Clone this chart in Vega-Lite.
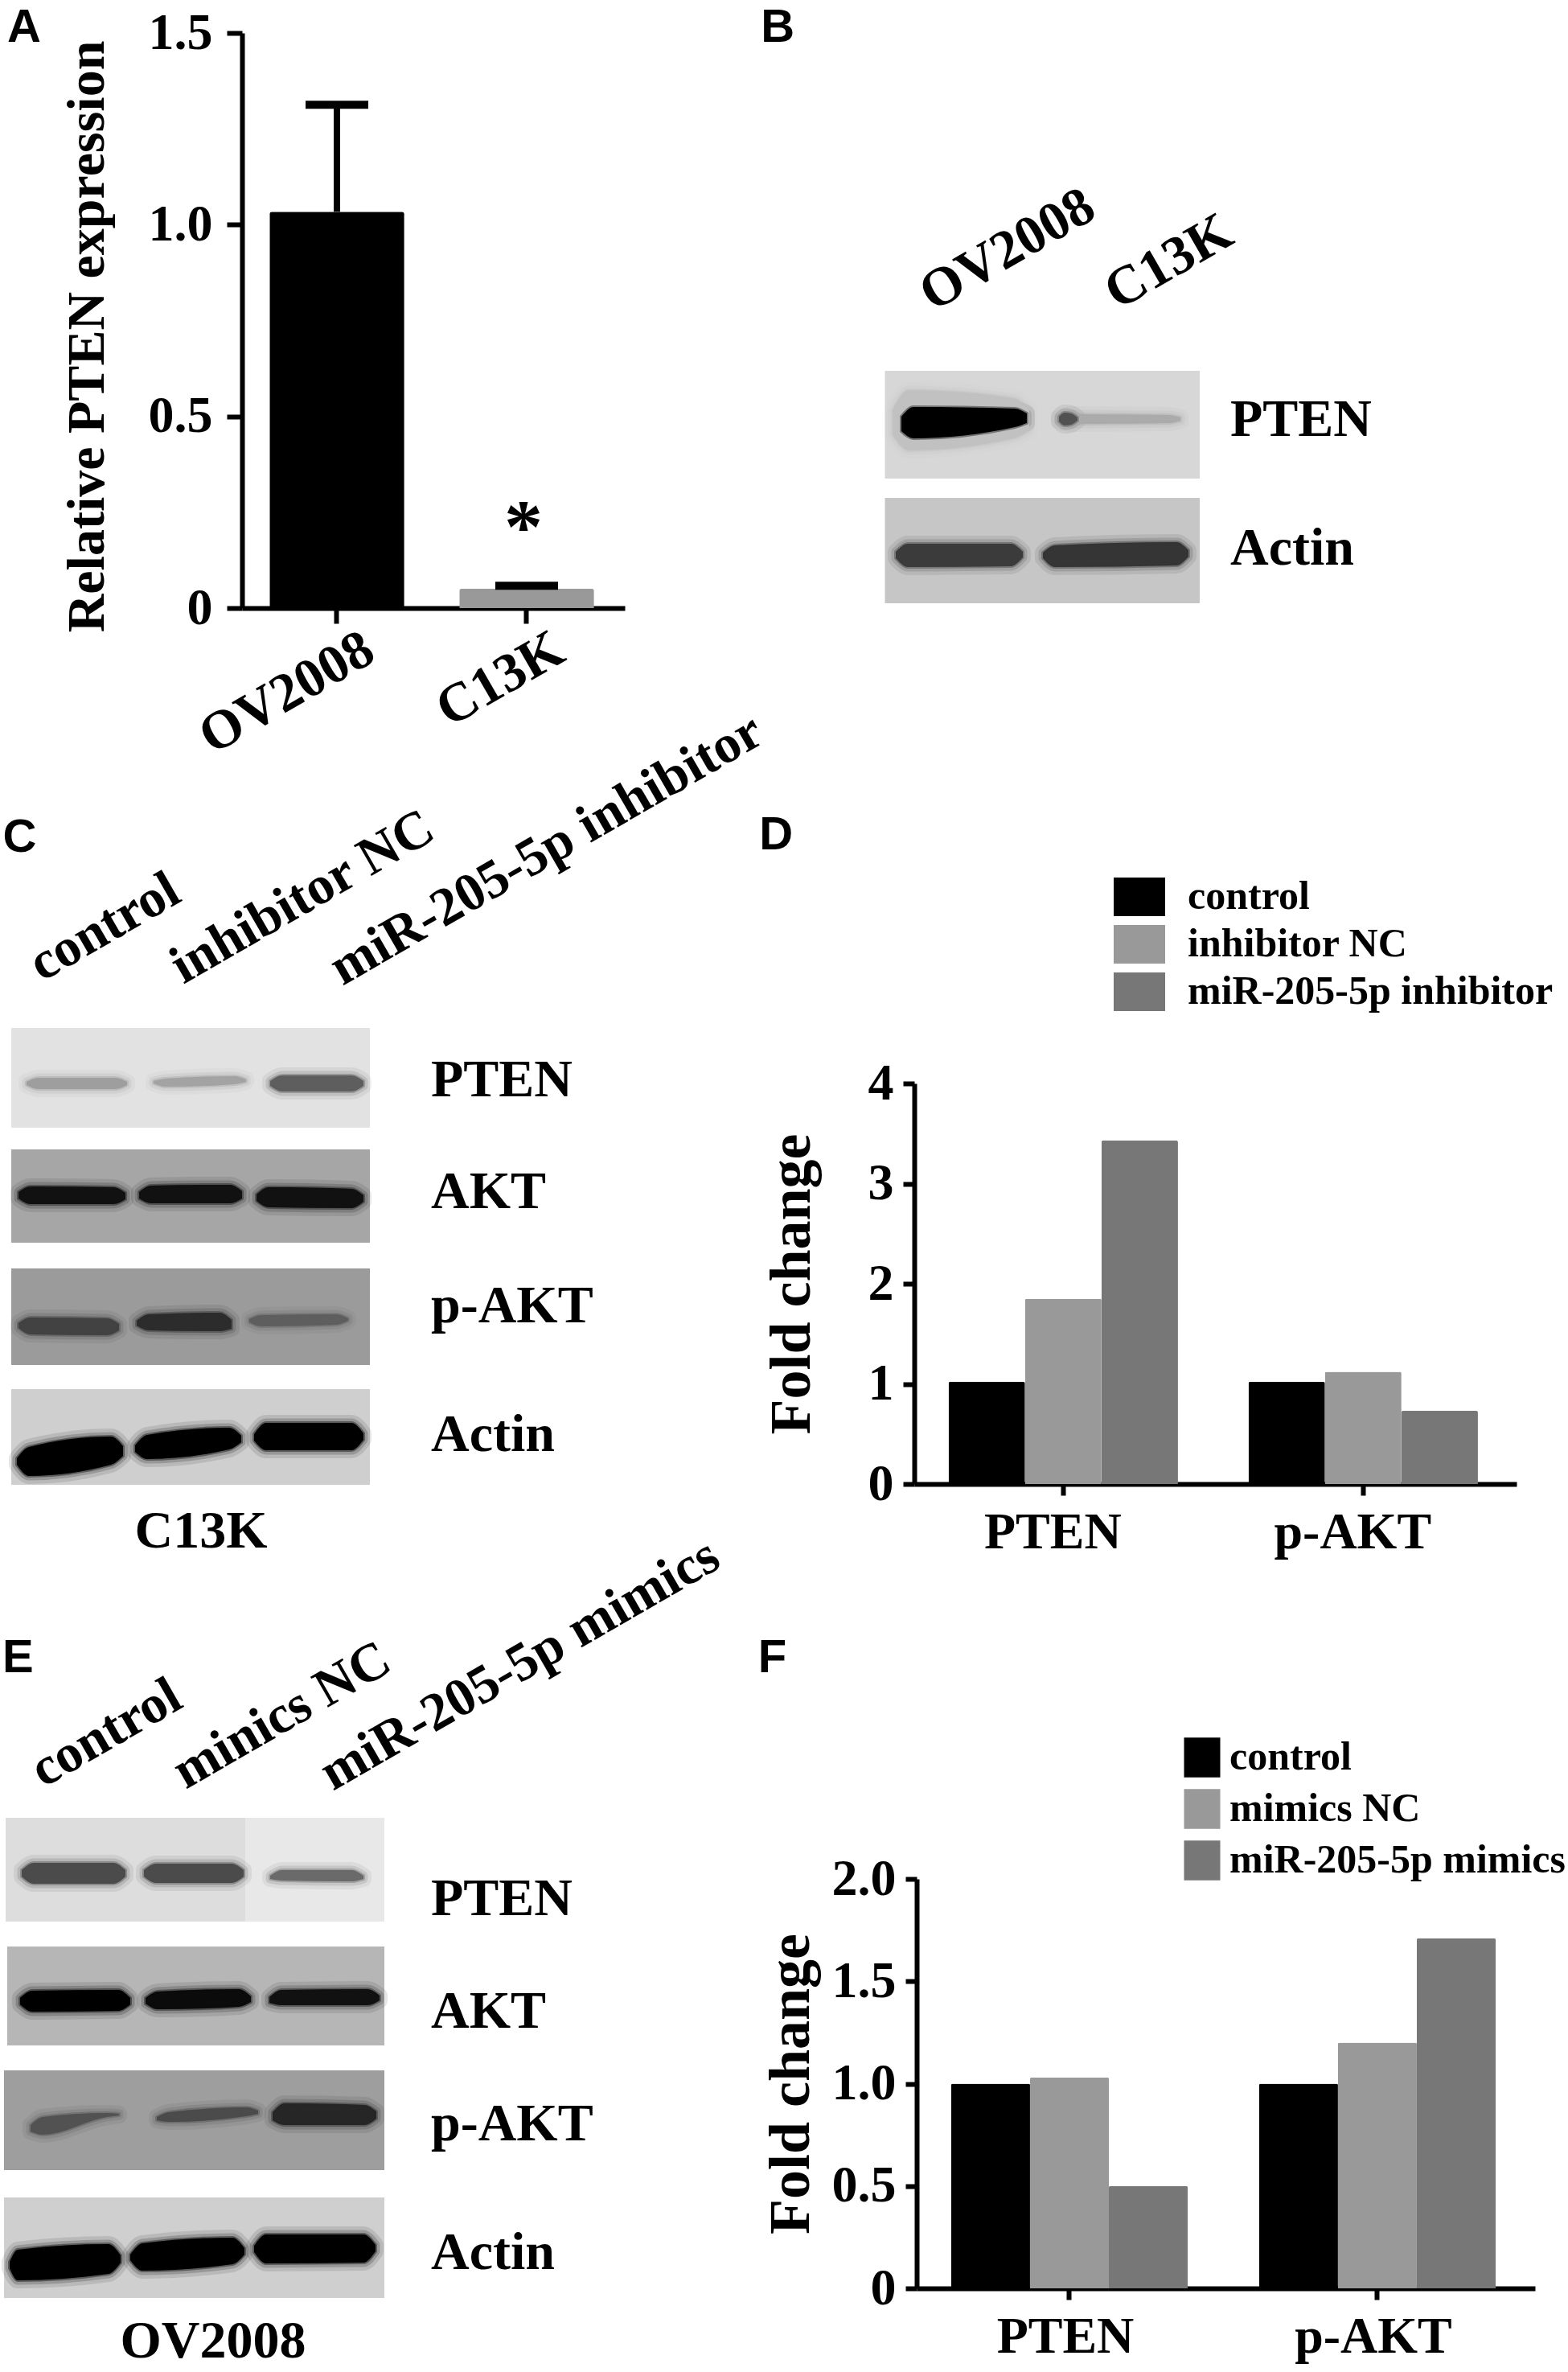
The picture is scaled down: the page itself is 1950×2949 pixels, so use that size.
{"$schema":"https://vega.github.io/schema/vega-lite/v6.json","width":1950,"height":2949,"padding":0,"autosize":{"type":"fit","contains":"padding"},"background":"white",
"config":{"view":{"stroke":null},"font":"Liberation Serif","tick":{"opacity":1},"axis":{"domainColor":"black","tickColor":"black","labelColor":"black","titleColor":"black","labelFont":"Liberation Serif","titleFont":"Liberation Serif","labelFontWeight":"bold","titleFontWeight":"bold","grid":false,"zindex":1,"labelOverlap":false,"labelBound":false,"labelFlush":false,"labelLimit":900,"titleLimit":1500}},
"datasets":{
"letters":[{"letter":"A","fx":0.0154,"fy":0.0118},{"letter":"B","fx":0.496,"fy":0.0118},{"letter":"C","fx":0.0125,"fy":0.3535},{"letter":"D","fx":0.495,"fy":0.3522},{"letter":"E","fx":0.0115,"fy":0.6992},{"letter":"F","fx":0.4925,"fy":0.6991}],
"bgB":[{"x":15.05,"x2":54.2,"y":26.1,"y2":39.5,"darkness":0.14},{"x":15.05,"x2":54.2,"y":41.9,"y2":55,"darkness":0.2}],
"bgC":[{"x":1.4,"x2":46,"y":37.8,"y2":50.2,"darkness":0.1},{"x":1.4,"x2":46,"y":52.9,"y2":64.5,"darkness":0.32},{"x":1.4,"x2":46,"y":67.7,"y2":79.7,"darkness":0.36},{"x":1.4,"x2":46,"y":82.7,"y2":94.6,"darkness":0.17}],
"bgE":[{"x":0.7,"x2":30.5,"y":34,"y2":46.9,"darkness":0.12},{"x":30.5,"x2":47.8,"y":34,"y2":46.9,"darkness":0.08},{"x":0.9,"x2":47.8,"y":50,"y2":62.3,"darkness":0.26},{"x":0.5,"x2":47.8,"y":65.4,"y2":77.8,"darkness":0.35},{"x":0.5,"x2":47.8,"y":81.2,"y2":93.7,"darkness":0.17}],
"bandsB":[
{"band":"halo","x":16,"top":31,"bottom":34,"darkness":0.22},{"band":"halo","x":18,"top":28.5,"bottom":36,"darkness":0.22},{"band":"halo","x":31,"top":29.5,"bottom":34.5,"darkness":0.22},{"band":"halo","x":33,"top":31,"bottom":33.5,"darkness":0.22},
{"band":"P1","x":17.1,"top":31.8,"bottom":33.6,"darkness":1},{"band":"P1","x":18.6,"top":30.6,"bottom":34.5,"darkness":1},{"band":"P1","x":31.2,"top":30.8,"bottom":33.1,"darkness":1},{"band":"P1","x":32.7,"top":31.4,"bottom":32.6,"darkness":1},
{"band":"P2","x":36.7,"top":31.9,"bottom":32.4,"darkness":0.3},{"band":"P2","x":38.2,"top":31.5,"bottom":32.7,"darkness":0.3},{"band":"P2","x":50.3,"top":31.6,"bottom":32.6,"darkness":0.3},{"band":"P2","x":51.8,"top":31.9,"bottom":32.3,"darkness":0.3},
{"band":"P2s","x":36.7,"top":31.8,"bottom":32.4,"darkness":0.65},{"band":"P2s","x":37.4,"top":31.3,"bottom":32.9,"darkness":0.65},{"band":"P2s","x":38.2,"top":31.4,"bottom":32.8,"darkness":0.65},{"band":"P2s","x":39,"top":31.9,"bottom":32.3,"darkness":0.65},
{"band":"A1","x":16.4,"top":48.6,"bottom":49.4,"darkness":0.75},{"band":"A1","x":17.9,"top":47.6,"bottom":50.5,"darkness":0.75},{"band":"A1","x":30.7,"top":47.6,"bottom":50.4,"darkness":0.75},{"band":"A1","x":32.2,"top":48.6,"bottom":49.3,"darkness":0.75},
{"band":"A2","x":34.7,"top":48.7,"bottom":49.4,"darkness":0.78},{"band":"A2","x":36.2,"top":47.8,"bottom":50.5,"darkness":0.78},{"band":"A2","x":51.3,"top":47.4,"bottom":50.3,"darkness":0.78},{"band":"A2","x":52.8,"top":48.4,"bottom":49.2,"darkness":0.78}],
"bandsC":[
{"band":"P1","x":3.3,"top":44.5,"bottom":44.9,"darkness":0.35},{"band":"P1","x":4.8,"top":44,"bottom":45.4,"darkness":0.35},{"band":"P1","x":14.3,"top":44,"bottom":45.4,"darkness":0.35},{"band":"P1","x":15.8,"top":44.5,"bottom":44.9,"darkness":0.35},
{"band":"P2","x":19.1,"top":44.4,"bottom":44.7,"darkness":0.33},{"band":"P2","x":20.6,"top":44.1,"bottom":45.1,"darkness":0.33},{"band":"P2","x":29.1,"top":43.8,"bottom":44.8,"darkness":0.33},{"band":"P2","x":30.6,"top":44.2,"bottom":44.5,"darkness":0.33},
{"band":"P3","x":33.6,"top":44.4,"bottom":45,"darkness":0.6},{"band":"P3","x":35.1,"top":43.7,"bottom":45.7,"darkness":0.6},{"band":"P3","x":43.7,"top":43.7,"bottom":45.7,"darkness":0.6},{"band":"P3","x":45.2,"top":44.4,"bottom":45,"darkness":0.6},
{"band":"K1","x":2.3,"top":58.2,"bottom":59,"darkness":0.95},{"band":"K1","x":3.8,"top":57.5,"bottom":59.7,"darkness":0.95},{"band":"K1","x":14.1,"top":57.6,"bottom":59.7,"darkness":0.95},{"band":"K1","x":15.6,"top":58.3,"bottom":59.1,"darkness":0.95},
{"band":"K2","x":17.3,"top":58.2,"bottom":59,"darkness":0.95},{"band":"K2","x":18.8,"top":57.4,"bottom":59.6,"darkness":0.95},{"band":"K2","x":28.6,"top":57.3,"bottom":59.6,"darkness":0.95},{"band":"K2","x":30.1,"top":58.1,"bottom":59,"darkness":0.95},
{"band":"K3","x":31.9,"top":58.5,"bottom":59.3,"darkness":0.95},{"band":"K3","x":33.4,"top":57.6,"bottom":60.1,"darkness":0.95},{"band":"K3","x":43.7,"top":57.8,"bottom":60.2,"darkness":0.95},{"band":"K3","x":45.2,"top":58.6,"bottom":59.4,"darkness":0.95},
{"band":"Q1","x":2.3,"top":74.5,"bottom":75.1,"darkness":0.72},{"band":"Q1","x":3.8,"top":73.8,"bottom":75.9,"darkness":0.72},{"band":"Q1","x":13.3,"top":73.9,"bottom":76,"darkness":0.72},{"band":"Q1","x":14.8,"top":74.6,"bottom":75.4,"darkness":0.72},
{"band":"Q2","x":17,"top":74.2,"bottom":74.8,"darkness":0.82},{"band":"Q2","x":18.5,"top":73.4,"bottom":75.4,"darkness":0.82},{"band":"Q2","x":27.3,"top":73.2,"bottom":75.5,"darkness":0.82},{"band":"Q2","x":28.8,"top":74.1,"bottom":75.2,"darkness":0.82},
{"band":"Q3","x":31,"top":74,"bottom":74.4,"darkness":0.6},{"band":"Q3","x":32.5,"top":73.5,"bottom":74.9,"darkness":0.6},{"band":"Q3","x":41.8,"top":73.4,"bottom":74.7,"darkness":0.6},{"band":"Q3","x":43.3,"top":73.9,"bottom":74.2,"darkness":0.6},
{"band":"A1","x":2.1,"top":91.3,"bottom":92.1,"darkness":1},{"band":"A1","x":3.6,"top":89.9,"bottom":93.5,"darkness":1},{"band":"A1","x":13.8,"top":88.6,"bottom":92.1,"darkness":1},{"band":"A1","x":15.3,"top":89.8,"bottom":91,"darkness":1},
{"band":"A2","x":16.8,"top":89.7,"bottom":90.5,"darkness":1},{"band":"A2","x":18.3,"top":88.4,"bottom":91.4,"darkness":1},{"band":"A2","x":28.5,"top":87.5,"bottom":90.2,"darkness":1},{"band":"A2","x":30,"top":88.5,"bottom":89.3,"darkness":1},
{"band":"A3","x":31.6,"top":88.3,"bottom":89.1,"darkness":1},{"band":"A3","x":33.1,"top":86.9,"bottom":90.3,"darkness":1},{"band":"A3","x":43.7,"top":86.9,"bottom":90.3,"darkness":1},{"band":"A3","x":45.2,"top":88.2,"bottom":89,"darkness":1}],
"bandsE":[
{"band":"P1","x":2.7,"top":40.5,"bottom":41.3,"darkness":0.68},{"band":"P1","x":4.2,"top":39.6,"bottom":42.2,"darkness":0.68},{"band":"P1","x":14.1,"top":39.6,"bottom":42.2,"darkness":0.68},{"band":"P1","x":15.6,"top":40.5,"bottom":41.3,"darkness":0.68},
{"band":"P2","x":17.9,"top":40.5,"bottom":41.3,"darkness":0.68},{"band":"P2","x":19.4,"top":39.7,"bottom":42.1,"darkness":0.68},{"band":"P2","x":28.8,"top":39.7,"bottom":42.1,"darkness":0.68},{"band":"P2","x":30.3,"top":40.5,"bottom":41.3,"darkness":0.68},
{"band":"P3","x":33.6,"top":41.2,"bottom":41.6,"darkness":0.55},{"band":"P3","x":35.1,"top":40.5,"bottom":41.8,"darkness":0.55},{"band":"P3","x":43.7,"top":40.5,"bottom":41.9,"darkness":0.55},{"band":"P3","x":45.2,"top":41.2,"bottom":41.6,"darkness":0.55},
{"band":"K1","x":2.5,"top":56.4,"bottom":57.2,"darkness":1},{"band":"K1","x":4,"top":55.5,"bottom":58.1,"darkness":1},{"band":"K1","x":14.7,"top":55.4,"bottom":58,"darkness":1},{"band":"K1","x":16.2,"top":56.4,"bottom":57.2,"darkness":1},
{"band":"K2","x":18.1,"top":56.4,"bottom":57.1,"darkness":0.97},{"band":"K2","x":19.6,"top":55.6,"bottom":57.8,"darkness":0.97},{"band":"K2","x":29.7,"top":55.3,"bottom":57.5,"darkness":0.97},{"band":"K2","x":31.2,"top":56.2,"bottom":56.9,"darkness":0.97},
{"band":"K3","x":33.5,"top":56.3,"bottom":57,"darkness":0.95},{"band":"K3","x":35,"top":55.4,"bottom":57.3,"darkness":0.95},{"band":"K3","x":45.7,"top":55.3,"bottom":57.3,"darkness":0.95},{"band":"K3","x":47.2,"top":56.1,"bottom":56.7,"darkness":0.95},
{"band":"Q1","x":3.8,"top":72.2,"bottom":73,"darkness":0.65},{"band":"Q1","x":5.3,"top":71.2,"bottom":73.4,"darkness":0.65},{"band":"Q1","x":13.3,"top":70.7,"bottom":71.2,"darkness":0.65},{"band":"Q1","x":14.8,"top":70.8,"bottom":71,"darkness":0.65},
{"band":"Q2","x":19.5,"top":71.2,"bottom":71.6,"darkness":0.68},{"band":"Q2","x":21,"top":70.6,"bottom":71.8,"darkness":0.68},{"band":"Q2","x":30.6,"top":70,"bottom":71.1,"darkness":0.68},{"band":"Q2","x":32.1,"top":70.4,"bottom":70.8,"darkness":0.68},
{"band":"Q3","x":33.9,"top":70.6,"bottom":71.6,"darkness":0.85},{"band":"Q3","x":35.4,"top":69.5,"bottom":72.2,"darkness":0.85},{"band":"Q3","x":45.3,"top":69.7,"bottom":72.2,"darkness":0.85},{"band":"Q3","x":46.8,"top":70.5,"bottom":71.4,"darkness":0.85},
{"band":"A1","x":1.2,"top":89.2,"bottom":90,"darkness":1},{"band":"A1","x":2.2,"top":87.7,"bottom":91.5,"darkness":1},{"band":"A1","x":13.5,"top":87,"bottom":90.7,"darkness":1},{"band":"A1","x":15,"top":88.4,"bottom":89.3,"darkness":1},
{"band":"A2","x":16.2,"top":88.3,"bottom":89,"darkness":1},{"band":"A2","x":17.7,"top":86.9,"bottom":90.3,"darkness":1},{"band":"A2","x":28.9,"top":86.2,"bottom":89.5,"darkness":1},{"band":"A2","x":30.4,"top":87.5,"bottom":88.3,"darkness":1},
{"band":"A3","x":31.6,"top":87.2,"bottom":88,"darkness":1},{"band":"A3","x":33.1,"top":85.8,"bottom":89.4,"darkness":1},{"band":"A3","x":45.2,"top":85.8,"bottom":89.3,"darkness":1},{"band":"A3","x":46.7,"top":87.1,"bottom":87.9,"darkness":1}],
"lanesB":[{"label":"OV2008","x":21,"y":18.8},{"label":"C13K","x":44,"y":18.6}],
"targetsB":[{"label":"PTEN","x":58,"y":32.2},{"label":"Actin","x":58,"y":48.2}],
"lanesC":[{"label":"control","x":5.2,"y":32.1},{"label":"inhibitor NC","x":22.8,"y":32.4},{"label":"miR-205-5p inhibitor","x":42.6,"y":32.6}],
"targetsC":[{"label":"PTEN","x":53.6,"y":44.3},{"label":"AKT","x":53.6,"y":58.2},{"label":"p-AKT","x":53.6,"y":72.4},{"label":"Actin","x":53.6,"y":88.4}],
"captionC":[{"label":"C13K","x":25,"y":100.4}],
"lanesE":[{"label":"control","x":5.4,"y":30.3},{"label":"minics NC","x":23.1,"y":30.5},{"label":"miR-205-5p mimics","x":41.4,"y":30.7}],
"targetsE":[{"label":"PTEN","x":53.6,"y":44.1},{"label":"AKT","x":53.6,"y":58.1},{"label":"p-AKT","x":53.6,"y":72.1},{"label":"Actin","x":53.6,"y":88.1}],
"captionE":[{"label":"OV2008","x":26.5,"y":99.1}]
},
"layer":[
{"data":{"name":"letters"},"mark":{"type":"text","font":"Liberation Sans","fontSize":58,"fontWeight":"bold","align":"center","baseline":"middle","color":"black"},"encoding":{"x":{"field":"fx","type":"quantitative","scale":{"domain":[0,1],"nice":false},"axis":null},"y":{"field":"fy","type":"quantitative","scale":{"domain":[1,0],"nice":false},"axis":null},"text":{"field":"letter"}}},

{"data":{"values":[{"sample":"OV2008","value":1.034,"upper":1.313},{"sample":"C13K","value":0.051,"upper":0.058}]},
"encoding":{"x":{"field":"sample","type":"nominal","sort":null,"title":null,"scale":{"domain":["OV2008","C13K"],"range":[301,777],"paddingInner":0,"paddingOuter":0.0085,"align":0},"axis":{"orient":"bottom","offset":-2193,"domainWidth":6,"tickWidth":6,"tickSize":19,"labelFontSize":68,"labelAngle":-30,"labelAlign":"right","labelBaseline":"middle","labelPadding":27,"labelOffset":41}},
"y":{"field":"value","type":"quantitative","scale":{"domain":[0,1.5],"range":[756,41],"nice":false},"axis":{"orient":"left","offset":-301,"values":[0,0.5,1,1.5],"labelExpr":"datum.value==0?'0':format(datum.value,'.1f')","domainWidth":6,"tickWidth":6,"tickSize":19,"labelFontSize":64,"labelPadding":18,"title":"Relative PTEN expression","titleFontSize":66,"titlePadding":42,"titleY":418}}},
"layer":[
{"mark":{"type":"rule","color":"black","strokeWidth":8},"encoding":{"y2":{"field":"upper"}}},
{"mark":{"type":"bar","width":{"band":0.71},"cornerRadiusTopLeft":3,"cornerRadiusTopRight":3},"encoding":{"color":{"field":"sample","type":"nominal","scale":{"domain":["OV2008","C13K"],"range":["#000000","#999999"]},"legend":null}}},
{"mark":{"type":"tick","color":"black","size":78,"thickness":10},"encoding":{"y":{"field":"upper","type":"quantitative"}}},
{"data":{"values":[{"sample":"C13K","value":0.235,"sig":"*"}]},"mark":{"type":"text","font":"Liberation Serif","fontWeight":"bold","fontSize":96,"baseline":"middle","dx":-4,"dy":14,"color":"black"},"encoding":{"text":{"field":"sig"}}}
]},

{"data":{"values":[{"target":"PTEN","treatment":"control","fold":1.02},{"target":"PTEN","treatment":"inhibitor NC","fold":1.85},{"target":"PTEN","treatment":"miR-205-5p inhibitor","fold":3.43},{"target":"p-AKT","treatment":"control","fold":1.02},{"target":"p-AKT","treatment":"inhibitor NC","fold":1.12},{"target":"p-AKT","treatment":"miR-205-5p inhibitor","fold":0.73}]},
"mark":{"type":"bar","cornerRadiusTopLeft":2,"cornerRadiusTopRight":2},
"encoding":{"x":{"field":"target","type":"nominal","sort":null,"title":null,"scale":{"domain":["PTEN","p-AKT"],"range":[1137,1886],"paddingInner":0.235,"paddingOuter":0.1215,"align":0.47},"axis":{"orient":"bottom","offset":-1104,"domainWidth":6,"tickWidth":6,"tickSize":14,"labelFontSize":64,"labelAngle":0,"labelPadding":14,"labelOffset":-13}},
"xOffset":{"field":"treatment","type":"nominal","sort":["control","inhibitor NC","miR-205-5p inhibitor"]},
"y":{"field":"fold","type":"quantitative","scale":{"domain":[0,4],"range":[1845,1347],"nice":false},"axis":{"orient":"left","offset":-1137,"values":[0,1,2,3,4],"domainWidth":6,"tickWidth":6,"tickSize":14,"labelFontSize":64,"labelPadding":12,"title":"Fold change","titleFontSize":72,"titlePadding":58}},
"color":{"field":"treatment","type":"nominal","scale":{"domain":["control","inhibitor NC","miR-205-5p inhibitor"],"range":["#000000","#999999","#777777"]},"legend":{"orient":"none","legendX":1385,"legendY":1083,"title":null,"symbolType":"M-1,-0.75H1V0.75H-1Z","symbolSize":4096,"symbolStrokeWidth":0,"labelFont":"Liberation Serif","labelFontWeight":"bold","labelFontSize":50,"labelColor":"black","labelLimit":700,"labelOffset":28,"rowPadding":2}}}},

{"data":{"values":[{"target":"PTEN","treatment":"control","fold":1.0},{"target":"PTEN","treatment":"mimics NC","fold":1.03},{"target":"PTEN","treatment":"miR-205-5p mimics","fold":0.5},{"target":"p-AKT","treatment":"control","fold":1.0},{"target":"p-AKT","treatment":"mimics NC","fold":1.2},{"target":"p-AKT","treatment":"miR-205-5p mimics","fold":1.71}]},
"mark":{"type":"bar","cornerRadiusTopLeft":2,"cornerRadiusTopRight":2},
"encoding":{"x":{"field":"target","type":"nominal","sort":null,"title":null,"scale":{"domain":["PTEN","p-AKT"],"range":[1140,1909],"paddingInner":0.232,"paddingOuter":0.12,"align":0.467},"axis":{"orient":"bottom","offset":-104,"domainWidth":6,"tickWidth":6,"tickSize":14,"labelFontSize":64,"labelAngle":0,"labelPadding":14,"labelOffset":-5}},
"xOffset":{"field":"treatment","type":"nominal","sort":["control","mimics NC","miR-205-5p mimics"]},
"y":{"field":"fold","type":"quantitative","scale":{"domain":[0,2],"range":[2845,2336],"nice":false},"axis":{"orient":"left","offset":-1140,"values":[0,0.5,1,1.5,2],"labelExpr":"datum.value==0?'0':format(datum.value,'.1f')","domainWidth":6,"tickWidth":6,"tickSize":14,"labelFontSize":64,"labelPadding":12,"title":"Fold change","titleFontSize":72,"titlePadding":14}},
"color":{"field":"treatment","type":"nominal","scale":{"domain":["control","mimics NC","miR-205-5p mimics"],"range":["#000000","#999999","#777777"]},"legend":{"orient":"none","legendX":1470,"legendY":2160,"title":null,"symbolType":"M-1,-1.1H1V1.1H-1Z","symbolSize":2025,"symbolStrokeWidth":0,"labelFont":"Liberation Serif","labelFontWeight":"bold","labelFontSize":50,"labelColor":"black","labelLimit":700,"labelOffset":9,"rowPadding":14}}}},

{"encoding":{"x":{"type":"quantitative","field":"x","scale":{"domain":[0,95],"range":[950,1900],"nice":false},"axis":null},"y":{"type":"quantitative","field":"y","scale":{"domain":[0,60],"range":[200,800],"nice":false},"axis":null}},
"layer":[
{"data":{"name":"bgB"},"mark":{"type":"rect"},"encoding":{"x2":{"field":"x2"},"y2":{"field":"y2"},"fill":{"field":"darkness","type":"quantitative","scale":{"domain":[0,1],"range":["#ffffff","#000000"]},"legend":null}}},
{"data":{"name":"bandsB"},"mark":{"type":"area","interpolate":"monotone","fillOpacity":0.1,"strokeOpacity":0.1,"strokeWidth":20,"strokeJoin":"round"},"encoding":{"y":{"field":"top","type":"quantitative","scale":{"domain":[0,60],"range":[200,800],"nice":false},"axis":null},"y2":{"field":"bottom"},"detail":{"field":"band"},"fill":{"field":"darkness","type":"quantitative","scale":{"domain":[0,1],"range":["#ffffff","#000000"]},"legend":null},"stroke":{"field":"darkness","type":"quantitative","scale":{"domain":[0,1],"range":["#ffffff","#000000"]},"legend":null}}},
{"data":{"name":"bandsB"},"mark":{"type":"area","interpolate":"monotone","fillOpacity":0.18,"strokeOpacity":0.18,"strokeWidth":11,"strokeJoin":"round"},"encoding":{"y":{"field":"top","type":"quantitative","scale":{"domain":[0,60],"range":[200,800],"nice":false},"axis":null},"y2":{"field":"bottom"},"detail":{"field":"band"},"fill":{"field":"darkness","type":"quantitative","scale":{"domain":[0,1],"range":["#ffffff","#000000"]},"legend":null},"stroke":{"field":"darkness","type":"quantitative","scale":{"domain":[0,1],"range":["#ffffff","#000000"]},"legend":null}}},
{"data":{"name":"bandsB"},"mark":{"type":"area","interpolate":"monotone","fillOpacity":1,"strokeOpacity":0.4,"strokeWidth":4,"strokeJoin":"round"},"encoding":{"y":{"field":"top","type":"quantitative","scale":{"domain":[0,60],"range":[200,800],"nice":false},"axis":null},"y2":{"field":"bottom"},"detail":{"field":"band"},"fill":{"field":"darkness","type":"quantitative","scale":{"domain":[0,1],"range":["#ffffff","#000000"]},"legend":null},"stroke":{"field":"darkness","type":"quantitative","scale":{"domain":[0,1],"range":["#ffffff","#000000"]},"legend":null}}},
{"data":{"name":"lanesB"},"mark":{"type":"text","font":"Liberation Serif","fontWeight":"bold","fontSize":68,"angle":-30,"align":"left","baseline":"alphabetic","color":"black"},"encoding":{"text":{"field":"label"}}},
{"data":{"name":"targetsB"},"mark":{"type":"text","font":"Liberation Serif","fontWeight":"bold","fontSize":66,"align":"left","baseline":"middle","color":"black"},"encoding":{"text":{"field":"label"}}}
]},

{"encoding":{"x":{"type":"quantitative","field":"x","scale":{"domain":[0,95],"range":[0,950],"nice":false},"axis":null},"y":{"type":"quantitative","field":"y","scale":{"domain":[0,105],"range":[900,1950],"nice":false},"axis":null}},
"layer":[
{"data":{"name":"bgC"},"mark":{"type":"rect"},"encoding":{"x2":{"field":"x2"},"y2":{"field":"y2"},"fill":{"field":"darkness","type":"quantitative","scale":{"domain":[0,1],"range":["#ffffff","#000000"]},"legend":null}}},
{"data":{"name":"bandsC"},"mark":{"type":"area","interpolate":"monotone","fillOpacity":0.1,"strokeOpacity":0.1,"strokeWidth":20,"strokeJoin":"round"},"encoding":{"y":{"field":"top","type":"quantitative","scale":{"domain":[0,105],"range":[900,1950],"nice":false},"axis":null},"y2":{"field":"bottom"},"detail":{"field":"band"},"fill":{"field":"darkness","type":"quantitative","scale":{"domain":[0,1],"range":["#ffffff","#000000"]},"legend":null},"stroke":{"field":"darkness","type":"quantitative","scale":{"domain":[0,1],"range":["#ffffff","#000000"]},"legend":null}}},
{"data":{"name":"bandsC"},"mark":{"type":"area","interpolate":"monotone","fillOpacity":0.18,"strokeOpacity":0.18,"strokeWidth":11,"strokeJoin":"round"},"encoding":{"y":{"field":"top","type":"quantitative","scale":{"domain":[0,105],"range":[900,1950],"nice":false},"axis":null},"y2":{"field":"bottom"},"detail":{"field":"band"},"fill":{"field":"darkness","type":"quantitative","scale":{"domain":[0,1],"range":["#ffffff","#000000"]},"legend":null},"stroke":{"field":"darkness","type":"quantitative","scale":{"domain":[0,1],"range":["#ffffff","#000000"]},"legend":null}}},
{"data":{"name":"bandsC"},"mark":{"type":"area","interpolate":"monotone","fillOpacity":1,"strokeOpacity":0.4,"strokeWidth":4,"strokeJoin":"round"},"encoding":{"y":{"field":"top","type":"quantitative","scale":{"domain":[0,105],"range":[900,1950],"nice":false},"axis":null},"y2":{"field":"bottom"},"detail":{"field":"band"},"fill":{"field":"darkness","type":"quantitative","scale":{"domain":[0,1],"range":["#ffffff","#000000"]},"legend":null},"stroke":{"field":"darkness","type":"quantitative","scale":{"domain":[0,1],"range":["#ffffff","#000000"]},"legend":null}}},
{"data":{"name":"lanesC"},"mark":{"type":"text","font":"Liberation Serif","fontWeight":"bold","fontSize":67,"angle":-30,"align":"left","baseline":"alphabetic","color":"black"},"encoding":{"text":{"field":"label"}}},
{"data":{"name":"targetsC"},"mark":{"type":"text","font":"Liberation Serif","fontWeight":"bold","fontSize":66,"align":"left","baseline":"middle","color":"black"},"encoding":{"text":{"field":"label"}}},
{"data":{"name":"captionC"},"mark":{"type":"text","font":"Liberation Serif","fontWeight":"bold","fontSize":66,"align":"center","baseline":"middle","color":"black"},"encoding":{"text":{"field":"label"}}}
]},

{"encoding":{"x":{"type":"quantitative","field":"x","scale":{"domain":[0,95],"range":[0,950],"nice":false},"axis":null},"y":{"type":"quantitative","field":"y","scale":{"domain":[0,102.9],"range":[1920,2949],"nice":false},"axis":null}},
"layer":[
{"data":{"name":"bgE"},"mark":{"type":"rect"},"encoding":{"x2":{"field":"x2"},"y2":{"field":"y2"},"fill":{"field":"darkness","type":"quantitative","scale":{"domain":[0,1],"range":["#ffffff","#000000"]},"legend":null}}},
{"data":{"name":"bandsE"},"mark":{"type":"area","interpolate":"monotone","fillOpacity":0.1,"strokeOpacity":0.1,"strokeWidth":20,"strokeJoin":"round"},"encoding":{"y":{"field":"top","type":"quantitative","scale":{"domain":[0,102.9],"range":[1920,2949],"nice":false},"axis":null},"y2":{"field":"bottom"},"detail":{"field":"band"},"fill":{"field":"darkness","type":"quantitative","scale":{"domain":[0,1],"range":["#ffffff","#000000"]},"legend":null},"stroke":{"field":"darkness","type":"quantitative","scale":{"domain":[0,1],"range":["#ffffff","#000000"]},"legend":null}}},
{"data":{"name":"bandsE"},"mark":{"type":"area","interpolate":"monotone","fillOpacity":0.18,"strokeOpacity":0.18,"strokeWidth":11,"strokeJoin":"round"},"encoding":{"y":{"field":"top","type":"quantitative","scale":{"domain":[0,102.9],"range":[1920,2949],"nice":false},"axis":null},"y2":{"field":"bottom"},"detail":{"field":"band"},"fill":{"field":"darkness","type":"quantitative","scale":{"domain":[0,1],"range":["#ffffff","#000000"]},"legend":null},"stroke":{"field":"darkness","type":"quantitative","scale":{"domain":[0,1],"range":["#ffffff","#000000"]},"legend":null}}},
{"data":{"name":"bandsE"},"mark":{"type":"area","interpolate":"monotone","fillOpacity":1,"strokeOpacity":0.4,"strokeWidth":4,"strokeJoin":"round"},"encoding":{"y":{"field":"top","type":"quantitative","scale":{"domain":[0,102.9],"range":[1920,2949],"nice":false},"axis":null},"y2":{"field":"bottom"},"detail":{"field":"band"},"fill":{"field":"darkness","type":"quantitative","scale":{"domain":[0,1],"range":["#ffffff","#000000"]},"legend":null},"stroke":{"field":"darkness","type":"quantitative","scale":{"domain":[0,1],"range":["#ffffff","#000000"]},"legend":null}}},
{"data":{"name":"lanesE"},"mark":{"type":"text","font":"Liberation Serif","fontWeight":"bold","fontSize":67,"angle":-30,"align":"left","baseline":"alphabetic","color":"black"},"encoding":{"text":{"field":"label"}}},
{"data":{"name":"targetsE"},"mark":{"type":"text","font":"Liberation Serif","fontWeight":"bold","fontSize":66,"align":"left","baseline":"middle","color":"black"},"encoding":{"text":{"field":"label"}}},
{"data":{"name":"captionE"},"mark":{"type":"text","font":"Liberation Serif","fontWeight":"bold","fontSize":66,"align":"center","baseline":"middle","color":"black"},"encoding":{"text":{"field":"label"}}}
]}
],
"resolve":{"scale":{"x":"independent","y":"independent","xOffset":"independent","color":"independent","fill":"independent","stroke":"independent"},"axis":{"x":"independent","y":"independent"},"legend":{"color":"independent"}}
}
